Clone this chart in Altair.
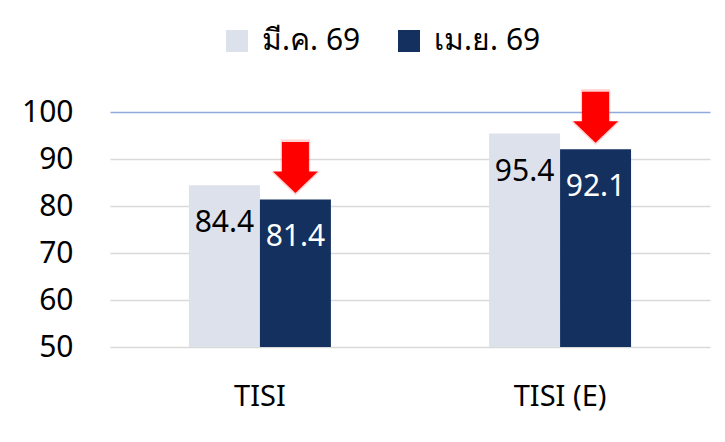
import altair as alt
import pandas as pd

categories = ["TISI", "TISI (E)"]
series_names = ["มี.ค. 69", "เม.ย. 69"]
mar_values = [84.4, 95.4]
apr_values = [81.4, 92.1]
series_colors = ["#dde1ec", "#14305e"]
label_colors = ["#000000", "#ffffff"]

rows = []
for i, c in enumerate(categories):
    rows.append({"category": c, "series": series_names[0], "value": mar_values[i], "lc": label_colors[0]})
    rows.append({"category": c, "series": series_names[1], "value": apr_values[i], "lc": label_colors[1]})
df = pd.DataFrame(rows)

FONT = "Noto Sans"

x = alt.X("category:N", sort=categories, title=None,
          scale=alt.Scale(paddingInner=0.527, paddingOuter=0.263),
          axis=alt.Axis(labelAngle=0, labelFontSize=29, labelColor="#000000",
                        labelPadding=35, ticks=False, domain=False, labelFont=FONT))
xo = alt.XOffset("series:N", sort=series_names, scale=alt.Scale(paddingInner=0, paddingOuter=0))
y = alt.Y("value:Q", title=None,
          scale=alt.Scale(domain=[50, 100], nice=False, zero=False),
          axis=alt.Axis(values=[50, 60, 70, 80, 90, 100], labelFontSize=30, labelColor="#000000",
                        labelPadding=37, ticks=False, domain=False, labelFont=FONT,
                        gridColor={"condition": {"test": "datum.value === 100", "value": "#8faadc"},
                                   "value": "#d9d9d9"},
                        gridWidth=1.5))

base = alt.Chart(df)

bars = base.mark_bar(clip=True).encode(
    x=x, xOffset=xo, y=y,
    color=alt.Color("series:N", sort=series_names,
                    scale=alt.Scale(domain=series_names, range=series_colors),
                    legend=alt.Legend(title=None, orient="none", direction="horizontal",
                                      legendX=112, legendY=-86,
                                      symbolType="square", symbolSize=484,
                                      symbolStrokeWidth=0, symbolOpacity=1,
                                      labelFontSize=30, labelFont=FONT, labelColor="#000000",
                                      labelOffset=10, columnPadding=33)),
)

labels = base.mark_text(fontSize=30, font=FONT, baseline="alphabetic", dy=47, align="center").encode(
    x=x, xOffset=xo, y=y,
    text=alt.Text("value:Q", format=".1f"),
    color=alt.Color("lc:N", scale=None),
)

arrow_path = "M-0.53,-1 L0.53,-1 L0.53,0.16 L0.88,0.16 L0,1 L-0.88,0.16 L-0.53,0.16 Z"
arrows_df = df[df["series"] == series_names[1]]
glow = alt.Chart(arrows_df).mark_point(shape=arrow_path, size=3100, filled=True, color="#ff0000",
                                       opacity=0.18, yOffset=-32, strokeWidth=0).encode(
    x=x, xOffset=xo, y=y)
arrows = alt.Chart(arrows_df).mark_point(shape=arrow_path, size=2601, filled=True, color="#ff0000",
                                         opacity=1, yOffset=-32, strokeWidth=0).encode(
    x=x, xOffset=xo, y=y)

chart = alt.layer(bars, labels, glow, arrows).properties(
    width=600, height=235,
    autosize=alt.AutoSizeParams(type="none"),
    padding={"left": 102, "top": 104, "right": 5, "bottom": 95},
    background="#ffffff",
).configure_view(stroke=None)

chart.save("out.html", embed_options={"renderer": "svg", "actions": False})
